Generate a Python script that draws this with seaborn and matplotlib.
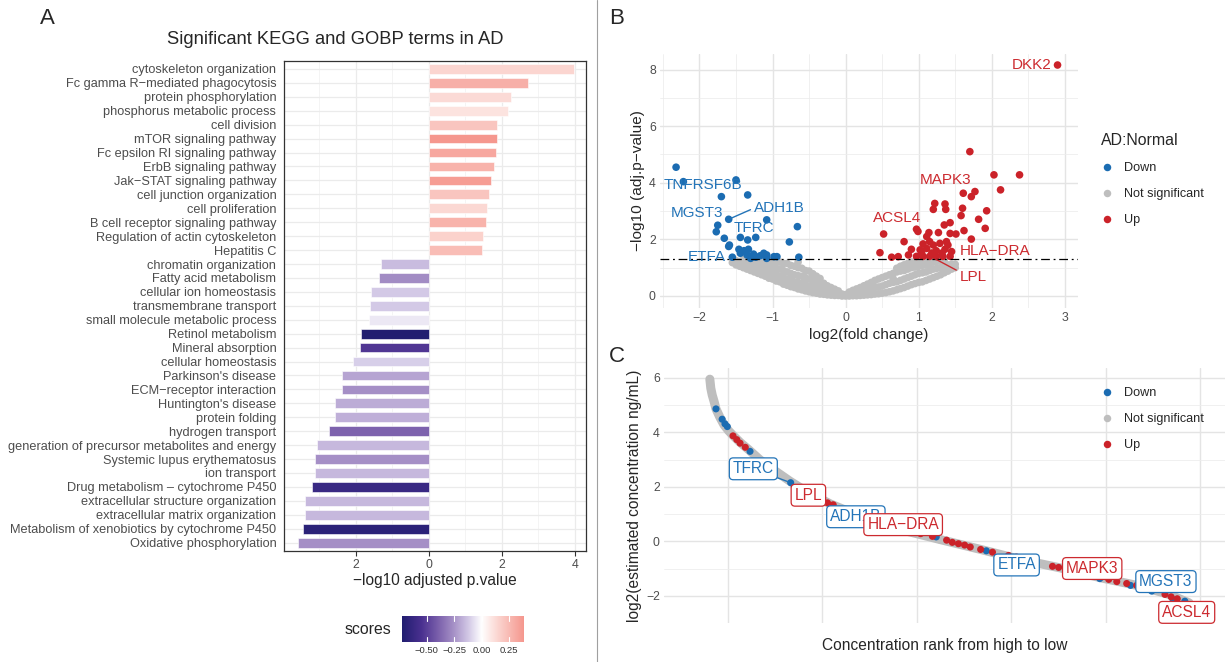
import numpy as np
import pandas as pd
import matplotlib
matplotlib.use("Agg")
import matplotlib.pyplot as plt
from matplotlib.colors import LinearSegmentedColormap, Normalize
from matplotlib.lines import Line2D
import seaborn as sns

# ---------------- data: panel A ----------------
terms = ["cytoskeleton organization", "Fc gamma R\u2212mediated phagocytosis", "protein phosphorylation",
         "phosphorus metabolic process", "cell division", "mTOR signaling pathway",
         "Fc epsilon RI signaling pathway", "ErbB signaling pathway", "Jak\u2212STAT signaling pathway",
         "cell junction organization", "cell proliferation", "B cell receptor signaling pathway",
         "Regulation of actin cytoskeleton", "Hepatitis C", "chromatin organization",
         "Fatty acid metabolism", "cellular ion homeostasis", "transmembrane transport",
         "small molecule metabolic process", "Retinol metabolism", "Mineral absorption",
         "cellular homeostasis", "Parkinson's disease", "ECM\u2212receptor interaction",
         "Huntington's disease", "protein folding", "hydrogen transport",
         "generation of precursor metabolites and energy", "Systemic lupus erythematosus",
         "ion transport", "Drug metabolism \u2013 cytochrome P450", "extracellular structure organization",
         "extracellular matrix organization", "Metabolism of xenobiotics by cytochrome P450",
         "Oxidative phosphorylation"]
neglogp = [3.97, 2.71, 2.24, 2.18, 1.87, 1.86, 1.84, 1.78, 1.70, 1.66, 1.59, 1.57, 1.48, 1.46,
           -1.30, -1.37, -1.58, -1.62, -1.64, -1.85, -1.88, -2.08, -2.37, -2.38, -2.56, -2.57,
           -2.72, -3.05, -3.11, -3.11, -3.19, -3.38, -3.38, -3.44, -3.59]
scores = [0.15, 0.29, 0.13, 0.10, 0.21, 0.385, 0.32, 0.28, 0.36, 0.21, 0.14, 0.28, 0.16, 0.24,
          -0.15, -0.27, -0.12, -0.12, -0.05, -0.727, -0.53, -0.11, -0.21, -0.26, -0.19, -0.18,
          -0.39, -0.16, -0.26, -0.16, -0.62, -0.16, -0.16, -0.68, -0.26]
score_ticks = [-0.50, -0.25, 0.00, 0.25]

# ---------------- data: panel B ----------------
down_lfc = [-2.32, -2.22, -1.50, -1.34, -1.70, -1.60, -1.08, -0.66, -1.75, -1.77, -1.66, -1.44, -1.34,
            -1.23, -0.77, -1.59, -1.60, -1.46, -1.39, -1.33, -1.44, -1.35, -1.26, -1.12, -1.08, -0.94,
            -0.64, -1.55, -1.23, -1.08, -0.98, -1.17, -1.30]
down_p = [4.55, 4.04, 4.10, 3.57, 3.51, 2.71, 2.69, 2.45, 2.50, 2.27, 2.04, 2.07, 1.98,
          2.07, 1.91, 1.80, 1.75, 1.65, 1.60, 1.65, 1.51, 1.45, 1.48, 1.51, 1.45, 1.39,
          1.37, 1.37, 1.37, 1.33, 1.39, 1.42, 1.33]
up_lfc = [2.90, 1.70, 2.03, 2.38, 2.12, 1.77, 1.61, 1.72, 1.22, 1.36, 1.20, 1.37, 1.60, 1.93, 1.58,
          1.82, 1.43, 1.35, 1.91, 1.62, 0.97, 0.99, 1.14, 1.27, 1.43, 1.51, 0.52, 1.11, 0.80, 1.72,
          1.15, 1.38, 1.06, 1.20, 1.29, 1.40, 0.90, 1.02, 1.11, 1.24, 1.36, 1.45, 0.47, 0.63, 0.72,
          0.86, 0.97, 1.06, 1.15, 1.24, 1.33, 1.43, 1.04, 1.18, 1.32]
up_p = [8.16, 5.10, 4.28, 4.28, 3.75, 3.69, 3.63, 3.51, 3.27, 3.25, 3.06, 3.06, 3.10, 3.01, 2.84,
        2.71, 2.59, 2.51, 2.39, 2.31, 2.36, 2.28, 2.24, 2.24, 2.21, 2.19, 2.19, 2.10, 1.92, 2.01,
        1.92, 1.92, 1.84, 1.80, 1.86, 1.80, 1.65, 1.63, 1.68, 1.60, 1.65, 1.57, 1.53, 1.37, 1.39,
        1.45, 1.40, 1.40, 1.40, 1.40, 1.40, 1.40, 1.52, 1.52, 1.52]
ns_lfc = [-1.5, -1.5, -1.4, -1.4, -1.4, -1.3, -1.3, -1.3, -1.2, -1.2, -1.2, -1.1, -1.1, -1.1, -1.1,
          -1.0, -1.0, -1.0, -1.0, -0.9, -0.9, -0.9, -0.9, -0.8, -0.8, -0.8, -0.8, -0.7, -0.7, -0.7,
          -0.7, -0.6, -0.6, -0.6, -0.6, -0.5, -0.5, -0.5, -0.5, -0.4, -0.4, -0.4, -0.4, -0.3, -0.3,
          -0.3, -0.2, -0.2, -0.2, -0.1, -0.1, -0.1, 0.0, 0.0, 0.1, 0.1, 0.1, 0.2, 0.2, 0.2, 0.3, 0.3,
          0.3, 0.4, 0.4, 0.4, 0.5, 0.5, 0.5, 0.6, 0.6, 0.6, 0.7, 0.7, 0.7, 0.7, 0.8, 0.8, 0.8, 0.8,
          0.9, 0.9, 0.9, 0.9, 1.0, 1.0, 1.0, 1.0, 1.1, 1.1, 1.1, 1.1, 1.2, 1.2, 1.2, 1.3, 1.3, 1.3,
          1.4, 1.4, 1.5, 1.5, -1.55, -0.65, -0.35, 0.25, 0.65, 1.05, 1.35, -1.15, -0.45,
          -1.45, -1.45, -1.35, -1.35, -1.35, -1.25, -1.25, -1.25, -1.15, -1.15, -1.15,
          -1.05, -1.05, -1.05, -1.05, -0.95, -0.95, -0.95, -0.95, -0.85, -0.85, -0.85, -0.85,
          -0.75, -0.75, -0.75, -0.75, -0.65, -0.65, -0.65, -0.65, -0.55, -0.55, -0.55, -0.55,
          -0.45, -0.45, -0.45, -0.45, -0.35, -0.35, -0.35, -0.25, -0.25, -0.25, -0.15, -0.15, -0.15,
          -0.05, -0.05, 0.05, 0.05, 0.05, 0.15, 0.15, 0.15, 0.25, 0.25, 0.25, 0.35, 0.35, 0.35,
          0.45, 0.45, 0.45, 0.55, 0.55, 0.55, 0.65, 0.65, 0.65, 0.75, 0.75, 0.75, 0.75,
          0.85, 0.85, 0.85, 0.85, 0.95, 0.95, 0.95, 0.95, 1.05, 1.05, 1.05, 1.05, 1.15, 1.15, 1.15,
          1.15, 1.25, 1.25, 1.25, 1.35, 1.35, 1.35, 1.45, 1.45]
ns_p = [1.10, 1.25, 1.00, 1.15, 1.28, 0.90, 1.10, 1.28, 0.80, 1.00, 1.20, 0.70, 0.90, 1.10, 1.28,
        0.60, 0.80, 1.00, 1.20, 0.50, 0.70, 0.95, 1.20, 0.38, 0.60, 0.85, 1.15, 0.30, 0.50, 0.75,
        1.05, 0.22, 0.45, 0.70, 0.98, 0.15, 0.35, 0.60, 0.88, 0.10, 0.30, 0.50, 0.70, 0.06, 0.25,
        0.45, 0.03, 0.15, 0.30, 0.02, 0.10, 0.18, 0.00, 0.05, 0.01, 0.10, 0.20, 0.02, 0.15, 0.30,
        0.04, 0.20, 0.42, 0.07, 0.30, 0.55, 0.10, 0.35, 0.65, 0.15, 0.45, 0.75, 0.22, 0.50, 0.85,
        0.98, 0.30, 0.60, 0.90, 1.10, 0.40, 0.70, 1.00, 1.20, 0.48, 0.80, 1.05, 1.25, 0.55, 0.85,
        1.10, 1.28, 0.65, 0.95, 1.20, 0.75, 1.00, 1.25, 0.88, 1.10, 1.00, 1.12, 1.18, 1.20, 0.62,
        0.12, 0.62, 1.18, 1.30, 0.92, 0.78,
        1.05, 1.22, 0.95, 1.12, 1.27, 0.85, 1.05, 1.25, 0.75, 0.95, 1.15,
        0.63, 0.85, 1.05, 1.25, 0.53, 0.75, 0.98, 1.20, 0.42, 0.65, 0.90, 1.15,
        0.33, 0.55, 0.80, 1.08, 0.25, 0.48, 0.72, 1.00, 0.18, 0.40, 0.65, 0.90,
        0.12, 0.32, 0.55, 0.78, 0.07, 0.27, 0.47, 0.04, 0.20, 0.36, 0.02, 0.12, 0.24,
        0.00, 0.07, 0.00, 0.07, 0.14, 0.01, 0.12, 0.25, 0.03, 0.18, 0.36, 0.05, 0.25, 0.48,
        0.08, 0.32, 0.60, 0.12, 0.40, 0.70, 0.18, 0.48, 0.80, 0.26, 0.55, 0.88, 1.05,
        0.35, 0.65, 0.95, 1.15, 0.44, 0.75, 1.02, 1.22, 0.50, 0.82, 1.08, 1.27, 0.60, 0.90, 1.15,
        1.30, 0.70, 0.98, 1.22, 0.82, 1.05, 1.28, 0.95, 1.12]
sig_line = 1.301
b_genes = ["TNFRSF6B", "MGST3", "ADH1B", "TFRC", "ETFA", "DKK2", "MAPK3", "ACSL4", "HLA\u2212DRA", "LPL"]
b_gene_dir = ["Down", "Down", "Down", "Down", "Down", "Up", "Up", "Up", "Up", "Up"]
b_gene_lx = [-1.955, -2.03, -0.91, -1.26, -1.90, 2.54, 1.37, 0.705, 2.05, 1.745]
b_gene_ly = [3.92, 2.92, 3.10, 2.39, 1.36, 8.16, 4.10, 2.75, 1.60, 0.68]
b_seg_genes = {"ADH1B": (-1.60, 2.71), "LPL": (1.19, 1.36)}

# ---------------- data: panel C ----------------
curve_rank = [1, 3, 6, 10, 14, 22, 31, 41, 52, 65, 82, 107, 141, 171, 209, 256, 319, 404, 489,
              574, 658, 743, 828, 913, 972, 1015]
curve_conc = [5.95, 5.62, 5.37, 5.13, 4.86, 4.56, 4.27, 4.05, 3.85, 3.63, 3.38, 2.99, 2.56, 2.20,
              1.79, 1.37, 0.92, 0.43, 0.06, -0.30, -0.67, -0.98, -1.34, -1.65, -1.95, -2.26]
c_down_rank = [14, 27, 33, 38, 86, 172, 480, 586, 660, 826, 891, 936, 981, 1006]
c_down_conc = [4.86, 4.48, 4.31, 4.21, 3.30, 2.15, 0.16, -0.35, -0.70, -1.37, -1.62, -1.83, -2.14, -2.20]
c_up_rank = [50, 58, 65, 76, 250, 262, 447, 472, 502, 514, 527, 540, 552, 574, 599, 633, 650, 726,
             739, 811, 845, 862, 883, 904, 964, 977, 990]
c_up_conc = [3.87, 3.73, 3.60, 3.45, 1.41, 1.34, 0.28, 0.18, 0.04, -0.04, -0.09, -0.14, -0.21, -0.30,
             -0.40, -0.52, -0.58, -0.92, -0.96, -1.28, -1.40, -1.48, -1.55, -1.62, -1.95, -2.04, -2.11]
c_genes = ["TFRC", "LPL", "ADH1B", "HLA\u2212DRA", "ETFA", "MAPK3", "MGST3", "ACSL4"]
c_gene_dir = ["Down", "Up", "Down", "Up", "Down", "Up", "Down", "Up"]
c_gene_lx = [93, 209.5, 310, 410, 650, 810, 966, 1010]
c_gene_ly = [2.66, 1.69, 0.90, 0.61, -0.87, -1.00, -1.48, -2.61]
c_seg_genes = {"TFRC": (172, 2.15)}

# ---------------- styling ----------------
BLUE = "#1b6cb2"
RED = "#cb2229"
GREY = "#bebebe"
TXT_BLUE = "#2374b8"
TXT_RED = "#cc2a2f"
TICKC = "#4d4d4d"

sns.set_theme(style="white")
plt.rcParams["font.family"] = ["Liberation Sans", "DejaVu Sans"]
plt.rcParams["axes.unicode_minus"] = True

W, H = 1225, 662
fig = plt.figure(figsize=(W / 100, H / 100), dpi=100)


def fax(l, t, r, b):
    return fig.add_axes([l / W, 1 - b / H, (r - l) / W, (b - t) / H])


# colour scale for scores
vmin, vmax = min(scores), max(scores)
anchor_v = [vmin, -0.55, -0.40, -0.25, -0.12, 0.0, 0.15, vmax]
anchor_c = ["#211e70", "#4a3090", "#7a5fab", "#a893c8", "#d3c9e6", "#ffffff", "#fbd5d0", "#f5978e"]
cmap = LinearSegmentedColormap.from_list(
    "scores", list(zip([(v - vmin) / (vmax - vmin) for v in anchor_v], anchor_c)))
norm = Normalize(vmin, vmax)

# ================= Panel A =================
axA = fax(284, 60.6, 586, 551)
dfA = pd.DataFrame({"term": terms, "val": neglogp, "score": scores})
pal = {t: cmap(norm(s)) for t, s in zip(terms, scores)}
sns.barplot(data=dfA, x="val", y="term", hue="term", palette=pal, legend=False, orient="h",
            width=0.7, errorbar=None, ax=axA, edgecolor="white", linewidth=0.4, zorder=3,
            saturation=1)
axA.set_xlim(-3.96, 4.30)
axA.set_ylim(len(terms) - 0.4, -0.6)
axA.set_xticks([-2, 0, 2, 4])
axA.set_xticklabels(["2", "0", "2", "4"])
axA.set_xticks([-3, -1, 1, 3], minor=True)
axA.grid(True, which="major", color="#ebebeb", lw=0.9, zorder=0)
axA.grid(True, which="minor", axis="x", color="#f0f0f0", lw=0.5, zorder=0)
axA.set_axisbelow(True)
for s in axA.spines.values():
    s.set_color("#333333")
    s.set_linewidth(0.9)
axA.tick_params(axis="y", which="major", length=3.5, width=0.8, color="#333333", labelsize=9.2,
                labelcolor=TICKC, pad=2)
axA.tick_params(axis="x", which="major", length=3.5, width=0.8, color="#333333", labelsize=8.8,
                labelcolor=TICKC, pad=2, bottom=True)
axA.tick_params(axis="x", which="minor", length=0)
axA.set_ylabel("")
axA.set_xlabel("\u2212log10 adjusted p.value", fontsize=11.2, labelpad=2)
fig.text(335 / W, 1 - 40 / H, "Significant KEGG and GOBP terms in AD", ha="center", va="center",
         fontsize=13.2)

# colourbar
cax = fax(402, 616, 524, 642)
grad = np.linspace(vmin, vmax, 256).reshape(1, -1)
cax.imshow(grad, aspect="auto", cmap=cmap, norm=norm, extent=[vmin, vmax, 0, 1])
cax.set_xlim(vmin, vmax)
cax.set_yticks([])
cax.set_xticks(score_ticks)
cax.set_xticklabels(["\u22120.50", "\u22120.25", "0.00", "0.25"])
cax.tick_params(axis="x", length=0, labelsize=6.8, labelcolor="#333333", pad=3)
for t in score_ticks:
    cax.axvline(t, ymin=0, ymax=0.2, color="white", lw=0.8)
    cax.axvline(t, ymin=0.8, ymax=1, color="white", lw=0.8)
for s in cax.spines.values():
    s.set_visible(False)
fig.text(391 / W, 1 - 629 / H, "scores", ha="right", va="center", fontsize=11.4)

# ================= Panel B =================
axB = fax(660, 53.7, 1078, 307.6)
dfB = pd.DataFrame({
    "lfc": ns_lfc + down_lfc + up_lfc,
    "p": ns_p + down_p + up_p,
    "grp": ["Not significant"] * len(ns_lfc) + ["Down"] * len(down_lfc) + ["Up"] * len(up_lfc)})
palB = {"Down": BLUE, "Not significant": GREY, "Up": RED}
sns.scatterplot(data=dfB, x="lfc", y="p", hue="grp", palette=palB, s=30, linewidth=0, ax=axB,
                legend=False, zorder=3)
axB.axhline(sig_line, color="black", lw=0.9, ls=(0, (7, 3, 1.5, 3)), zorder=4)
axB.set_xlim(-2.54, 3.18)
axB.set_ylim(-0.41, 8.56)
axB.set_xticks([-2, -1, 0, 1, 2, 3])
axB.set_xticks(np.arange(-2.5, 3.2, 1.0), minor=True)
axB.set_yticks([0, 2, 4, 6, 8])
axB.set_yticks([1, 3, 5, 7], minor=True)
axB.grid(True, which="major", color="#e4e4e4", lw=1.0, zorder=0)
axB.grid(True, which="minor", color="#ececec", lw=0.55, zorder=0)
axB.set_axisbelow(True)
for s in axB.spines.values():
    s.set_visible(False)
axB.tick_params(which="both", length=0, labelsize=8.8, labelcolor=TICKC, pad=3)
axB.set_xlabel("log2(fold change)", fontsize=11.1, labelpad=3)
axB.set_ylabel("\u2212log10 (adj.p\u2212value)", fontsize=11.1, labelpad=3)
for g, d, lx, ly in zip(b_genes, b_gene_dir, b_gene_lx, b_gene_ly):
    col = TXT_BLUE if d == "Down" else TXT_RED
    if g in b_seg_genes:
        rel = (0.0, 0.5) if g == "ADH1B" else (0.0, 0.85)
        axB.annotate(g, xy=b_seg_genes[g], xytext=(lx, ly), ha="center", va="center", fontsize=11,
                     color=col, zorder=6,
                     arrowprops=dict(arrowstyle="-", color=col, lw=1.0, relpos=rel, shrinkA=0,
                                     shrinkB=2))
    else:
        axB.text(lx, ly, g, ha="center", va="center", fontsize=11, color=col, zorder=6)

legend_order = ["Down", "Not significant", "Up"]
handles = [Line2D([], [], ls="", marker="o", ms=5.4, mec="none", mfc=palB[k]) for k in legend_order]
legB = fig.legend(handles, legend_order, title="AD:Normal", loc="upper left",
                  bbox_to_anchor=(1101 / W, 1 - 133 / H), frameon=False, fontsize=9.1,
                  title_fontsize=11.4, handlelength=1.0, handletextpad=0.8, labelspacing=1.12,
                  borderaxespad=0, borderpad=0)
legB._legend_box.align = "left"

# ================= Panel C =================
axC = fax(664, 368, 1225, 623)
dfCurve = pd.DataFrame({"rank": curve_rank, "conc": curve_conc})
sns.lineplot(data=dfCurve, x="rank", y="conc", color=GREY, lw=6.5, ax=axC, zorder=2,
             solid_capstyle="round")
sns.scatterplot(data=dfCurve, x="rank", y="conc", color=GREY, s=24, linewidth=0, ax=axC, zorder=2)
dfC = pd.DataFrame({"rank": c_down_rank + c_up_rank, "conc": c_down_conc + c_up_conc,
                    "grp": ["Down"] * len(c_down_rank) + ["Up"] * len(c_up_rank)})
sns.scatterplot(data=dfC, x="rank", y="conc", hue="grp", palette=palB, s=26, linewidth=0, ax=axC,
                legend=False, zorder=3)
axC.set_xlim(-96, 1091)
axC.set_ylim(-2.98, 6.36)
axC.set_xticks([39, 239, 439, 639, 839, 1039])
axC.set_xticklabels([])
axC.set_yticks([-2, 0, 2, 4, 6])
axC.set_yticks([-3, -1, 1, 3, 5], minor=True)
axC.grid(True, which="major", color="#e4e4e4", lw=1.0, zorder=0)
axC.grid(True, which="minor", axis="y", color="#ececec", lw=0.55, zorder=0)
axC.set_axisbelow(True)
for s in axC.spines.values():
    s.set_visible(False)
axC.tick_params(which="both", length=0, labelsize=8.8, labelcolor=TICKC, pad=3)
axC.set_xlabel("Concentration rank from high to low", fontsize=11.2, labelpad=8)
axC.set_ylabel("log2(estimated concentration ng/mL)", fontsize=11.2, labelpad=3)
for i, (g, d, lx, ly) in enumerate(zip(c_genes, c_gene_dir, c_gene_lx, c_gene_ly)):
    col = TXT_BLUE if d == "Down" else TXT_RED
    box = dict(boxstyle="round,pad=0.22,rounding_size=0.25", fc="white", ec=col, lw=0.9)
    if g in c_seg_genes:
        axC.annotate(g, xy=c_seg_genes[g], xytext=(lx, ly), ha="center", va="center", fontsize=11.2,
                     color=col, bbox=box, zorder=6 + i,
                     arrowprops=dict(arrowstyle="-", color=col, lw=1.0, shrinkA=0, shrinkB=2))
    else:
        axC.text(lx, ly, g, ha="center", va="center", fontsize=11.2, color=col, bbox=box, zorder=6 + i)

legC = fig.legend(handles, legend_order, loc="upper left", bbox_to_anchor=(1101 / W, 1 - 387 / H),
                  frameon=False, fontsize=9.1, handlelength=1.0, handletextpad=0.8,
                  labelspacing=1.12, borderaxespad=0, borderpad=0)

# panel letters and separator
fig.text(47 / W, 1 - 18 / H, "A", ha="center", va="center", fontsize=16)
fig.text(617 / W, 1 - 18 / H, "B", ha="center", va="center", fontsize=16)
fig.text(617 / W, 1 - 356 / H, "C", ha="center", va="center", fontsize=16)
fig.add_artist(Line2D([597 / W, 597 / W], [0, 1], color="#a0a0a0", lw=0.8))

fig.savefig("out.png", dpi=100)
